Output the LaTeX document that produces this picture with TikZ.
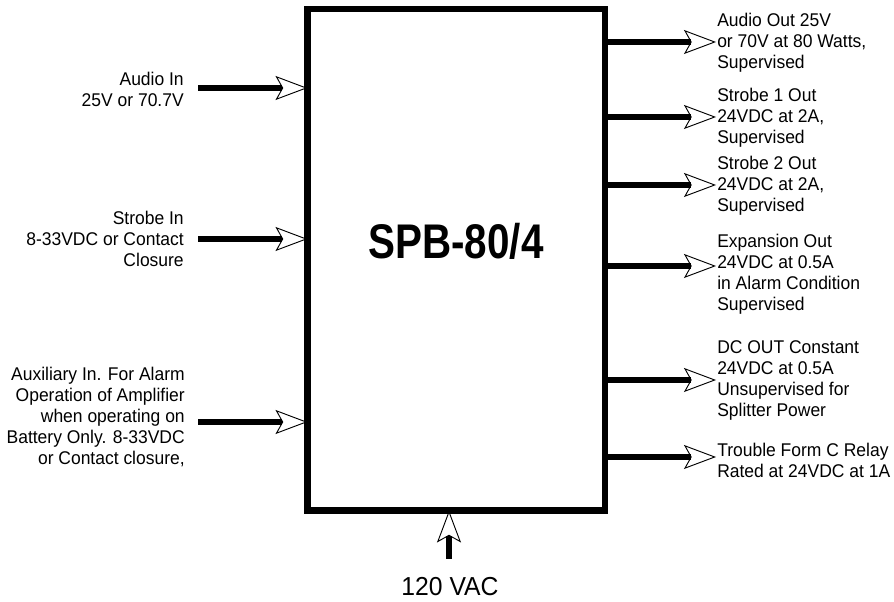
\documentclass[tikz,border=0pt]{standalone}
\usepackage{fontspec}
\setmainfont{Liberation Sans}[FakeStretch=0.95]
\newfontfamily\titlefont{Liberation Sans}[FakeStretch=0.83]
\usetikzlibrary{arrows.meta, positioning}

\begin{document}
\begin{tikzpicture}[x=0.75pt, y=-0.75pt,
    lbl/.style={font=\fontsize{13.8}{15.75}\selectfont, inner sep=0pt},
    inlbl/.style={lbl, align=right, anchor=east},
    outlbl/.style={lbl, align=left, anchor=west},
    sig/.style={line width=4.3pt, -{Stealth[open, length=24pt, width=18pt, inset=5pt, line width=0.7pt]}}]
  \useasboundingbox (0,0) rectangle (894,602);

  \node[draw, line width=5pt, outer sep=0pt, minimum width=223.1pt, minimum height=376.1pt] (spb) at (456.25,259.75) {};
  \node[font=\titlefont\bfseries\fontsize{36.5}{40}\selectfont] (title) at (456,241) {SPB-80/4};

  \node[inlbl] (audioin) at (184,89) {Audio In\\25V or 70.7V};
  \node[inlbl] (strobein) at (184,239) {Strobe In\\8-33VDC or Contact\\Closure};
  \node[inlbl] (auxin) at (185,417) {Auxiliary In. For Alarm\\Operation of Amplifier\\when operating on\\Battery Only. 8-33VDC\\or Contact closure,};

  \coordinate (audioinS) at (198,88);
  \coordinate (strobeinS) at (198,239);
  \coordinate (auxinS) at (198,422);
  \draw[sig] (audioinS) -- (audioinS -| spb.west);
  \draw[sig] (strobeinS) -- (strobeinS -| spb.west);
  \draw[sig] (auxinS) -- (auxinS -| spb.west);

  \node[outlbl] (audioout) at (717,43) {Audio Out 25V\\or 70V at 80 Watts,\\Supervised};
  \node[outlbl] (strobe1) at (717,118) {Strobe 1 Out\\24VDC at 2A,\\Supervised};
  \node[outlbl] (strobe2) at (717,186) {Strobe 2 Out\\24VDC at 2A,\\Supervised};
  \node[outlbl] (expout) at (717,274.5) {Expansion Out\\24VDC at 0.5A\\in Alarm Condition\\Supervised};
  \node[outlbl] (dcout) at (717,380) {DC OUT Constant\\24VDC at 0.5A\\Unsupervised for\\Splitter Power};
  \node[outlbl] (trouble) at (717,460.5) {Trouble Form C Relay\\Rated at 24VDC at 1A};

  \coordinate (audiooutT) at (716,42);
  \coordinate (strobe1T) at (716,117);
  \coordinate (strobe2T) at (716,185);
  \coordinate (expoutT) at (716,266);
  \coordinate (dcoutT) at (716,380);
  \coordinate (troubleT) at (716,457);
  \foreach \t in {audiooutT, strobe1T, strobe2T, expoutT, dcoutT, troubleT}
    \draw[sig] (\t -| spb.east) -- (\t);

  \coordinate (acS) at (449,559);
  \draw[sig] (acS) -- (acS |- spb.south);
  \node[font=\fontsize{19.5}{22}\selectfont] (ac) at (450,587) {120 VAC};
\end{tikzpicture}
\end{document}
